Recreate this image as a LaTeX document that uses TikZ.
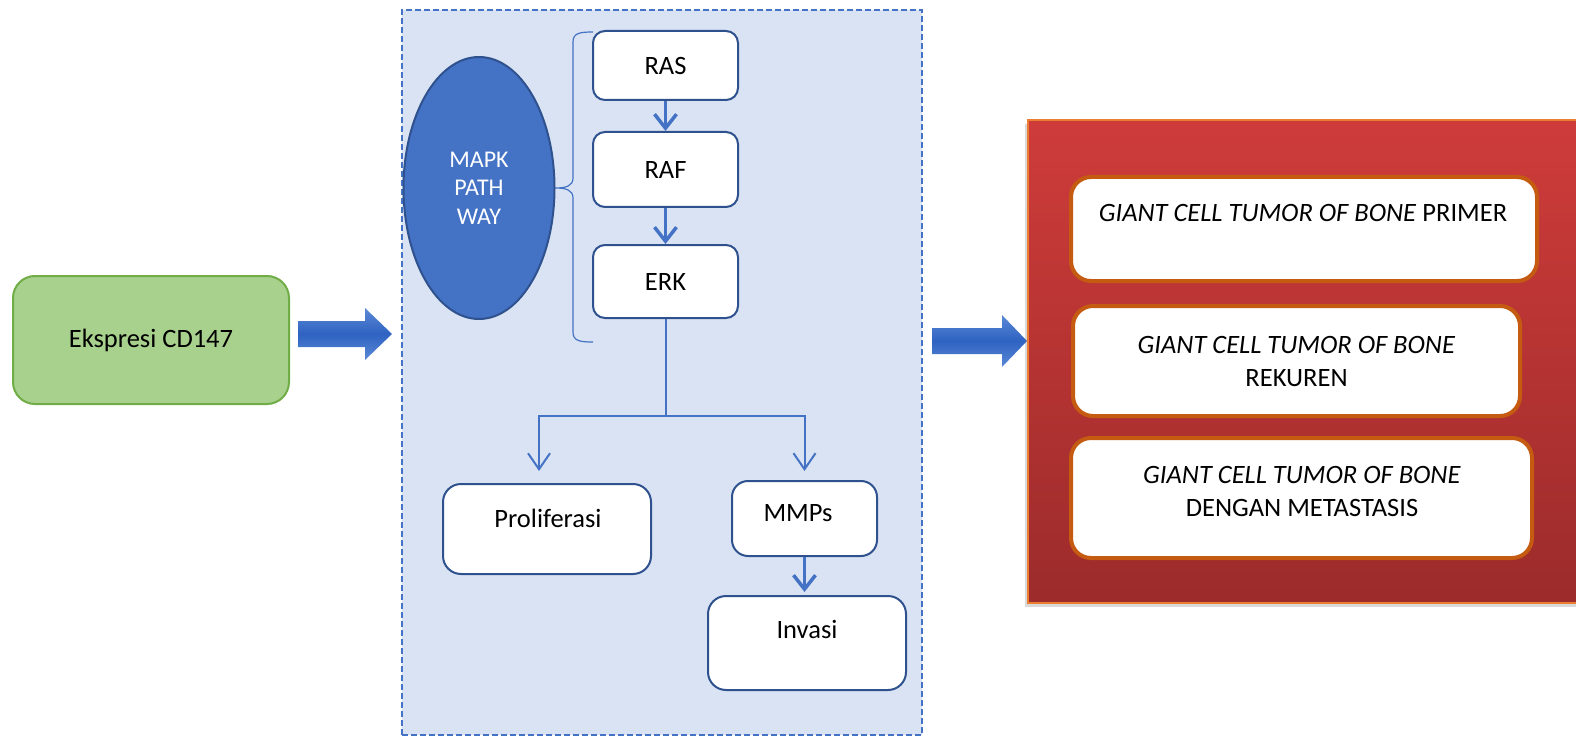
\documentclass[tikz,border=0pt]{standalone}
\usepackage{fontspec}
\setmainfont{Carlito}
\usetikzlibrary{arrows.meta,shapes.geometric,shadows}

\definecolor{panelfill}{HTML}{DAE3F3}
\definecolor{accent}{HTML}{4472C4}
\definecolor{boxline}{HTML}{2F528F}
\definecolor{greenfill}{HTML}{A9D18E}
\definecolor{greenline}{HTML}{70AD47}
\definecolor{redtop}{HTML}{CE3C3A}
\definecolor{redbottom}{HTML}{9C2B2B}
\definecolor{orangeline}{HTML}{ED7D31}
\definecolor{innerline}{HTML}{C55A11}
\definecolor{arrowtop}{HTML}{5B89D6}
\definecolor{arrowmid}{HTML}{2F63C2}

\tikzset{
  txt/.style={font=\fontsize{26.5}{32}\selectfont, text=black, align=center, inner sep=0pt},
  stepbox/.style={draw=boxline, line width=2pt, fill=white, rounded corners=12pt, inner sep=0pt},
  redbox/.style={draw=innerline, line width=4pt, fill=white, rounded corners=20pt, inner sep=0pt},
  thickarrow/.style={draw=accent, line width=3.5pt, -{Straight Barb[length=14pt,width=22pt,line width=3.5pt]}},
  thinarrow/.style={draw=accent, line width=2pt, -{Straight Barb[length=16pt,width=22pt,line width=2pt]}},
  plainline/.style={draw=accent, line width=2pt},
}

\begin{document}
\begin{tikzpicture}[x=1pt,y=-1pt]
\useasboundingbox (0,0) rectangle (1576,738);
\clip (0,0) rectangle (1576,738);

% input box
\node[draw=greenline, line width=2pt, fill=greenfill, rounded corners=22pt,
      minimum width=276pt, minimum height=128pt, txt] (cd) at (151,340) {Ekspresi CD147};

% block arrow into the pathway panel
\shade[top color=arrowtop, bottom color=arrowtop, middle color=arrowmid]
  (298,321) -- (365,321) -- (365,308) -- (392,334) -- (365,360) -- (365,347) -- (298,347) -- cycle;

% pathway panel
\node[draw=accent, dash pattern=on 6pt off 3pt, line width=2pt, fill=panelfill, minimum width=520pt,
      minimum height=725pt, inner sep=0pt] (panel) at (662,372.5) {};

\node[ellipse, draw=boxline, line width=2pt, fill=accent, minimum width=151pt,
      minimum height=262pt, inner sep=0pt, text=white, align=center,
      font=\fontsize{24}{28.5}\selectfont] (mapk) at (479,188) {MAPK\\PATH\\WAY};

\node[stepbox, minimum width=145pt, minimum height=69pt, txt] (ras) at (665.5,65.5) {RAS};
\node[stepbox, minimum width=145pt, minimum height=75pt, txt] (raf) at (665.5,169.5) {RAF};
\node[stepbox, minimum width=145pt, minimum height=73pt, txt] (erk) at (665.5,281.5) {ERK};

% brace grouping RAS, RAF and ERK
\draw[accent, line width=1.2pt]
  (593,32) .. controls (580,32) and (573,33) .. (573,42) -- (573,178)
  .. controls (573,186) and (566,188) .. (mapk.east)
  .. controls (566,188) and (573,190) .. (573,198) -- (573,332)
  .. controls (573,341) and (580,342) .. (593,342);

\node[stepbox, rounded corners=18pt, minimum width=208pt, minimum height=90pt] (prolif) at (547,529) {};
\node[txt] (prolift) at (548,518) {Proliferasi};
\node[stepbox, rounded corners=16pt, minimum width=145pt, minimum height=75pt] (mmps) at (804.5,518.5) {};
\node[txt] (mmpst) at (798,513) {MMPs};
\node[stepbox, rounded corners=18pt, minimum width=198pt, minimum height=94pt] (invasi) at (807,643) {};
\node[txt] (invasit) at (807,629) {Invasi};

\coordinate (split) at (665.5,416);

\draw[thickarrow] (ras.south) -- (raf.north);
\draw[thickarrow] (raf.south) -- (erk.north);
\draw[plainline] (erk.south) -- (split);
\draw[thinarrow, shorten >=12pt] (split) -| ([xshift=-8pt]prolif.north);
\draw[thinarrow, shorten >=9pt] (split) -| (mmps.north);
\draw[thickarrow, shorten >=3pt] (mmps.south) -- (mmps.south |- invasi.north);

% block arrow into the outcome panel
\shade[top color=arrowtop, bottom color=arrowtop, middle color=arrowmid]
  (932,328) -- (1002,328) -- (1002,315) -- (1027,341) -- (1002,367) -- (1002,354) -- (932,354) -- cycle;

% outcome panel
\node[draw=orangeline, line width=2pt, top color=redtop, bottom color=redbottom,
      minimum width=552pt, minimum height=483pt, inner sep=0pt,
      drop shadow={opacity=0.3, shadow xshift=-3pt, shadow yshift=-4pt}] (outcome) at (1304,361.5) {};

\node[redbox, minimum width=466pt, minimum height=104pt] (primer) at (1304,229) {};
\node[txt] (primert) at (1303,213) {\textit{GIANT CELL TUMOR OF BONE} PRIMER};
\node[redbox, minimum width=447pt, minimum height=110pt, txt] (rekuren) at (1296.5,361)
  {\textit{GIANT CELL TUMOR OF BONE}\\[1pt]REKUREN};
\node[redbox, minimum width=461pt, minimum height=120pt] (meta) at (1301.5,498) {};
\node[txt] (metat) at (1302,491) {\textit{GIANT CELL TUMOR OF BONE}\\[1pt]DENGAN METASTASIS};
\end{tikzpicture}
\end{document}
